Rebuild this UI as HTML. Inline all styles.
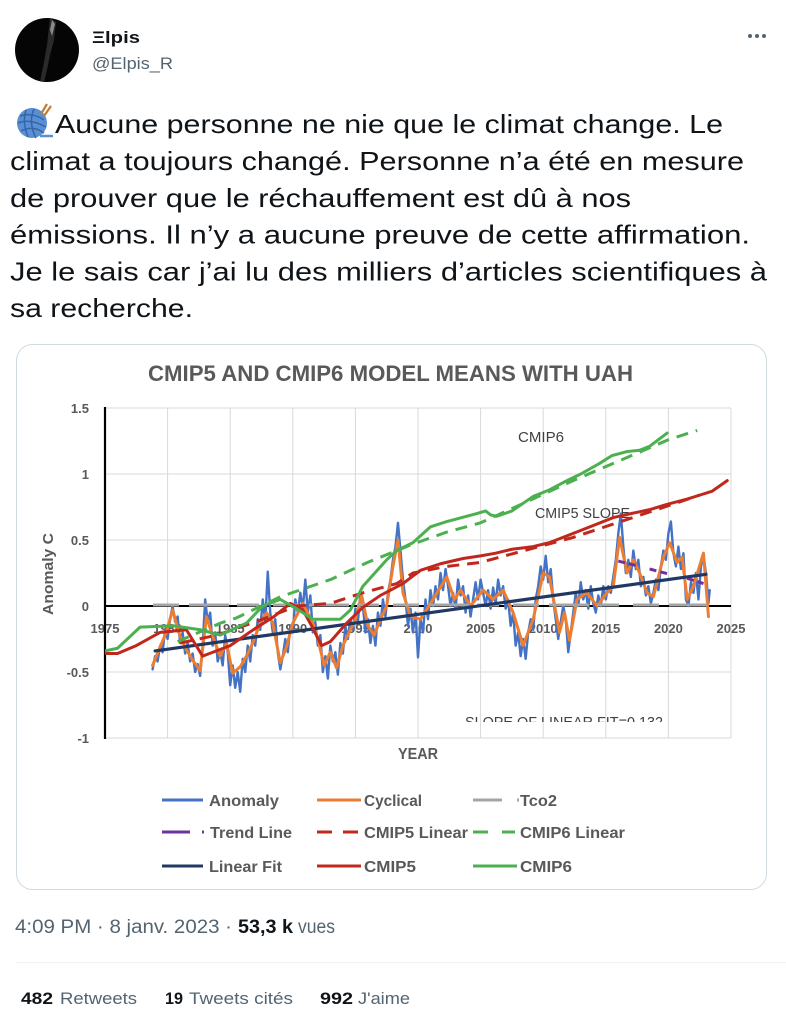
<!DOCTYPE html>
<html><head><meta charset="utf-8"><style>html,body{margin:0;padding:0;background:#fff;}svg{display:block}</style></head>
<body>
<svg width="786" height="1024" viewBox="0 0 786 1024" xmlns="http://www.w3.org/2000/svg" font-family="'Liberation Sans', sans-serif">
<defs>
<clipPath id="plot"><rect x="105" y="404" width="630" height="336"/></clipPath>
<clipPath id="slopeclip"><rect x="400" y="700" width="300" height="22"/></clipPath>
<clipPath id="av"><circle cx="47" cy="50" r="32"/></clipPath>
</defs>
<rect width="786" height="1024" fill="#fff"/>

<!-- header -->
<circle cx="47" cy="50" r="32" fill="#050505"/>
<g clip-path="url(#av)">
<path d="M50 18 L56 22 L54 40 L50 55 L47 70 L44 82 L40 82 L44 62 L47 45 Z" fill="#2a2a2a"/>
<path d="M52 20 L55 24 L52 36 L50 30 Z" fill="#8a8a8a"/>
</g>
<text x="92" y="43" font-size="17" font-weight="bold" fill="#0F1419" textLength="48" lengthAdjust="spacingAndGlyphs">Ξlpis</text>
<text x="92" y="69" font-size="17" fill="#536471" textLength="81" lengthAdjust="spacingAndGlyphs">@Elpis_R</text>
<circle cx="750" cy="36" r="2" fill="#536471"/><circle cx="757" cy="36" r="2" fill="#536471"/><circle cx="764" cy="36" r="2" fill="#536471"/>

<!-- yarn emoji -->
<circle cx="32" cy="123" r="15" fill="#5B8FD4"/>
<path d="M20 116 Q32 112 44 120 M18 123 Q30 118 46 127 M21 131 Q33 125 44 133 M26 110 Q22 122 28 137 M34 109 Q28 122 36 138" stroke="#3465A8" stroke-width="1.5" fill="none"/>
<line x1="41" y1="114" x2="47" y2="104" stroke="#C27A3A" stroke-width="2.2"/>
<line x1="44" y1="116" x2="51" y2="106" stroke="#C27A3A" stroke-width="2.2"/>
<path d="M40 136 L53 136" stroke="#5B8FD4" stroke-width="2.5"/>

<!-- tweet text -->
<g font-size="26" fill="#0F1419">
<text x="55" y="133" textLength="668" lengthAdjust="spacingAndGlyphs">Aucune personne ne nie que le climat change. Le</text>
<text x="10" y="170" textLength="734" lengthAdjust="spacingAndGlyphs">climat a toujours changé. Personne n’a été en mesure</text>
<text x="10" y="207" textLength="621" lengthAdjust="spacingAndGlyphs">de prouver que le réchauffement est dû à nos</text>
<text x="10" y="243.5" textLength="740" lengthAdjust="spacingAndGlyphs">émissions. Il n’y a aucune preuve de cette affirmation.</text>
<text x="10" y="280.5" textLength="757" lengthAdjust="spacingAndGlyphs">Je le sais car j’ai lu des milliers d’articles scientifiques à</text>
<text x="10" y="317" textLength="183" lengthAdjust="spacingAndGlyphs">sa recherche.</text>
</g>

<!-- card -->
<rect x="16.5" y="344.5" width="750" height="545" rx="16" ry="16" fill="#fff" stroke="#CFD9DE" stroke-width="1"/>

<!-- chart title -->
<text x="148" y="381" font-size="22" font-weight="bold" fill="#595959" textLength="485" lengthAdjust="spacingAndGlyphs">CMIP5 AND CMIP6 MODEL MEANS WITH UAH</text>

<!-- gridlines -->
<g stroke="#D9D9D9" stroke-width="1">
<line x1="105" y1="408" x2="731" y2="408"/><line x1="105" y1="474" x2="731" y2="474"/><line x1="105" y1="540" x2="731" y2="540"/><line x1="105" y1="672" x2="731" y2="672"/><line x1="105" y1="738" x2="731" y2="738"/>
<line x1="167.6" y1="408" x2="167.6" y2="738"/><line x1="230.2" y1="408" x2="230.2" y2="738"/><line x1="292.8" y1="408" x2="292.8" y2="738"/><line x1="355.4" y1="408" x2="355.4" y2="738"/><line x1="418" y1="408" x2="418" y2="738"/><line x1="480.6" y1="408" x2="480.6" y2="738"/><line x1="543.2" y1="408" x2="543.2" y2="738"/><line x1="605.8" y1="408" x2="605.8" y2="738"/><line x1="668.4" y1="408" x2="668.4" y2="738"/><line x1="731" y1="408" x2="731" y2="738"/>
</g>

<!-- y tick labels -->
<g font-size="13" font-weight="bold" fill="#595959" text-anchor="end">
<text x="89" y="413">1.5</text><text x="89" y="479">1</text><text x="89" y="545">0.5</text><text x="89" y="611">0</text><text x="89" y="677">-0.5</text><text x="89" y="743">-1</text>
</g>
<text transform="translate(53,574) rotate(-90)" font-size="15" font-weight="bold" fill="#595959" text-anchor="middle" textLength="82" lengthAdjust="spacingAndGlyphs">Anomaly C</text>

<!-- x tick labels -->
<g font-size="13" font-weight="bold" fill="#595959" text-anchor="middle">
<text x="105" y="633">1975</text><text x="167.6" y="633">1980</text><text x="230.2" y="633">1985</text><text x="292.8" y="633">1990</text><text x="355.4" y="633">1995</text><text x="418" y="633">2000</text><text x="480.6" y="633">2005</text><text x="543.2" y="633">2010</text><text x="605.8" y="633">2015</text><text x="668.4" y="633">2020</text><text x="731" y="633">2025</text>
</g>
<text x="398" y="759" font-size="16" font-weight="bold" fill="#595959" textLength="40" lengthAdjust="spacingAndGlyphs">YEAR</text>

<!-- axes -->
<line x1="105" y1="606" x2="731" y2="606" stroke="#000" stroke-width="2"/>
<line x1="105" y1="407" x2="105" y2="739" stroke="#000" stroke-width="2.2"/>

<!-- annotations -->
<text x="518" y="442" font-size="15" fill="#404040" textLength="46" lengthAdjust="spacingAndGlyphs">CMIP6</text>
<text x="535" y="518" font-size="15" fill="#404040" textLength="95" lengthAdjust="spacingAndGlyphs">CMIP5 SLOPE</text>
<g clip-path="url(#slopeclip)"><text x="465" y="727" font-size="15" fill="#404040" textLength="198" lengthAdjust="spacingAndGlyphs">SLOPE OF LINEAR FIT=0.132</text></g>

<g clip-path="url(#plot)" fill="none" stroke-linejoin="round" stroke-linecap="round">
<g transform="matrix(12.52 0 0 -132 105 606)">
<!-- Anomaly -->
<polyline vector-effect="non-scaling-stroke" stroke="#4472C4" stroke-width="2.4" points="3.8,-0.48 4.0,-0.38 4.2,-0.42 4.4,-0.3 4.6,-0.35 4.8,-0.18 5.0,-0.25 5.2,-0.1 5.4,0.0 5.6,-0.12 5.8,-0.08 6.0,-0.28 6.2,-0.2 6.4,-0.36 6.6,-0.28 6.8,-0.42 7.0,-0.36 7.2,-0.5 7.4,-0.44 7.6,-0.53 7.8,-0.3 8.0,0.05 8.2,-0.12 8.4,-0.05 8.6,-0.3 8.8,-0.2 9.0,-0.42 9.2,-0.35 9.4,-0.45 9.6,-0.22 9.8,-0.35 10.0,-0.6 10.2,-0.45 10.4,-0.62 10.6,-0.5 10.8,-0.65 11.0,-0.4 11.2,-0.5 11.4,-0.3 11.6,-0.42 11.8,-0.22 12.0,-0.3 12.2,-0.1 12.4,-0.18 12.6,0.05 12.8,-0.12 13.0,0.26 13.2,-0.05 13.4,-0.2 13.6,-0.1 13.8,-0.35 14.0,-0.48 14.2,-0.38 14.4,-0.25 14.6,-0.35 14.8,-0.15 15.0,-0.2 15.2,0.05 15.4,-0.05 15.6,0.1 15.8,-0.02 16.0,0.2 16.2,-0.05 16.4,0.08 16.6,-0.2 16.8,-0.12 17.0,-0.3 17.2,-0.22 17.4,-0.5 17.6,-0.38 17.8,-0.55 18.0,-0.3 18.2,-0.42 18.4,-0.35 18.6,-0.52 18.8,-0.28 19.0,-0.36 19.2,-0.15 19.4,-0.25 19.6,-0.1 19.8,-0.18 20.0,-0.02 20.2,-0.12 20.4,0.1 20.6,0.0 20.8,-0.2 21.0,-0.1 21.2,-0.28 21.4,-0.15 21.6,-0.3 21.8,-0.05 22.0,-0.15 22.2,0.05 22.4,-0.08 22.6,0.1 22.8,0.2 23.0,0.35 23.2,0.45 23.4,0.63 23.6,0.42 23.8,0.2 24.0,0.05 24.2,-0.15 24.4,-0.02 24.6,-0.2 24.8,-0.05 25.0,-0.39 25.2,-0.1 25.4,-0.2 25.6,0.05 25.8,-0.1 26.0,0.12 26.2,0.0 26.4,0.15 26.6,0.05 26.8,0.25 27.0,0.12 27.2,0.28 27.4,0.15 27.6,0.0 27.8,0.1 28.0,-0.02 28.2,0.2 28.4,0.08 28.6,0.15 28.8,-0.05 29.0,0.08 29.2,-0.08 29.4,0.05 29.6,0.18 29.8,0.05 30.0,0.2 30.2,0.1 30.4,0.0 30.6,0.12 30.8,-0.02 31.0,0.14 31.2,0.02 31.4,0.2 31.6,0.08 31.8,0.15 32.0,-0.02 32.2,0.05 32.4,-0.15 32.6,-0.05 32.8,-0.3 33.0,-0.2 33.2,-0.38 33.4,-0.25 33.6,-0.4 33.8,-0.2 34.0,-0.1 34.2,-0.18 34.4,0.05 34.6,0.15 34.8,0.3 35.0,0.2 35.2,0.38 35.4,0.18 35.6,0.28 35.8,0.05 36.0,-0.1 36.2,-0.25 36.4,-0.12 36.6,0.0 36.8,-0.1 37.0,-0.35 37.2,-0.2 37.4,-0.05 37.6,0.1 37.8,0.0 38.0,0.18 38.2,0.05 38.4,0.12 38.6,-0.02 38.8,0.15 39.0,0.02 39.2,-0.05 39.4,0.08 39.6,0.0 39.8,0.15 40.0,0.05 40.2,0.15 40.4,0.1 40.6,0.22 40.8,0.35 41.0,0.55 41.2,0.7 41.4,0.45 41.6,0.25 41.8,0.35 42.0,0.22 42.2,0.42 42.4,0.28 42.6,0.35 42.8,0.15 43.0,0.22 43.2,0.08 43.4,0.15 43.6,0.02 43.8,0.1 44.0,0.2 44.2,0.12 44.4,0.3 44.6,0.42 44.8,0.35 45.0,0.55 45.2,0.64 45.4,0.4 45.6,0.3 45.8,0.45 46.0,0.28 46.2,0.4 46.4,0.05 46.6,0.0 46.8,0.18 47.0,0.1 47.2,0.25 47.4,0.05 47.6,0.3 47.8,0.38 48.0,0.25 48.2,0.02 48.3,0.12"/>
<!-- Cyclical -->
<polyline vector-effect="non-scaling-stroke" stroke="#ED7D31" stroke-width="3" points="3.8,-0.45 4.4,-0.31 4.9,-0.2 5.4,-0.03 6,-0.23 6.5,-0.33 7,-0.41 7.6,-0.49 8.1,-0.08 8.6,-0.23 9.2,-0.38 9.7,-0.28 10.2,-0.51 10.8,-0.46 11.3,-0.38 11.8,-0.28 12.4,-0.13 12.9,-0.05 13.4,-0.13 14,-0.43 14.5,-0.31 15,-0.13 15.8,0.02 16.6,-0.13 17,-0.25 17.5,-0.45 18,-0.35 18.5,-0.47 19,-0.3 19.5,-0.2 20,-0.1 20.5,0.08 21,-0.15 21.5,-0.22 22,-0.1 22.5,0 23,0.3 23.4,0.5 23.8,0.1 24.4,-0.08 25.2,-0.1 26.2,0.05 27.3,0.22 27.9,0.05 28.4,0.12 29.2,0 30.2,0.12 31,0.05 31.8,0.12 32.6,-0.05 33.4,-0.3 34.2,-0.1 35,0.25 35.5,0.22 36.3,-0.2 36.7,-0.05 37.1,-0.26 37.7,0.05 38.5,0.1 39.3,0 40.1,0.1 40.6,0.15 41.1,0.52 41.7,0.25 42.2,0.35 42.7,0.25 43.3,0.1 43.8,0.07 44.6,0.37 45.1,0.48 45.7,0.33 46.1,0.37 46.5,0.05 47,0.15 47.8,0.4 48.2,-0.08"/>
</g>
<!-- Tco2 -->
<line x1="153" y1="605" x2="707" y2="605" stroke="#A5A5A5" stroke-width="3" stroke-dasharray="26 10 40 8 22 14" stroke-linecap="butt"/>
<!-- Trend line -->
<g stroke="#7030A0" stroke-width="3" stroke-dasharray="7 4" stroke-linecap="butt">
<line x1="618.3" y1="561.1" x2="639.6" y2="566.4"/>
<line x1="649.6" y1="569" x2="669.7" y2="574.3"/>
<line x1="687.2" y1="578.3" x2="703.5" y2="583.6"/>
</g>
<!-- CMIP5 linear -->
<polyline stroke="#C0281E" stroke-width="3" stroke-dasharray="12 8" stroke-linecap="butt" points="180.1,643 217.7,635 262.8,619.2 296.6,606 330.4,603.4 362.9,592.8 396.7,583.6 413,573 446.8,566.4 480.6,562.4 573.2,537.4 668.4,505.7 699.7,495.1"/>
<!-- CMIP6 linear -->
<polyline stroke="#4CB050" stroke-width="3" stroke-dasharray="12 8" stroke-linecap="butt" points="177.6,641.6 220.2,623.2 236.5,617.9 280.3,596.8 330.4,579.6 367.6,562.4 413,544 446.8,532.1 480.6,522.8 573.2,480.6 668.4,439.7 697.2,430.4"/>
<!-- Linear fit -->
<line x1="155.1" y1="650.9" x2="706" y2="574.3" stroke="#203864" stroke-width="3.2"/>
<g transform="matrix(12.52 0 0 -132 105 606)">
<!-- CMIP5 -->
<polyline vector-effect="non-scaling-stroke" stroke="#C0281E" stroke-width="3" points="0,-0.36 1,-0.36 2.5,-0.3 4.4,-0.2 6.5,-0.18 7.8,-0.38 10,-0.3 12,-0.17 13.5,-0.08 14.8,0.02 15.8,-0.03 16.5,-0.15 17.3,-0.3 18,-0.27 19.3,-0.13 20.6,-0.01 22,0.08 23.8,0.17 25.2,0.27 26.8,0.32 28.6,0.36 30,0.38 31.2,0.4 32.5,0.43 34.2,0.45 35.5,0.48 37.4,0.55 39,0.61 40.6,0.67 42,0.7 43.5,0.73 44.9,0.77 46.5,0.81 47.5,0.84 48.5,0.87 49.7,0.95"/>
<!-- CMIP6 -->
<polyline vector-effect="non-scaling-stroke" stroke="#4CB050" stroke-width="3" points="0,-0.34 1,-0.32 2.8,-0.16 5.5,-0.15 7.6,-0.18 9.2,-0.22 11.3,-0.13 12.6,0 14,0.05 15.3,-0.02 16.6,-0.1 18.8,-0.1 19.6,-0.03 20.6,0.15 22.5,0.35 23.3,0.42 24.6,0.48 26,0.6 27.3,0.64 29.7,0.7 30.4,0.72 30.8,0.69 31.3,0.68 32.5,0.72 34.2,0.83 35.5,0.88 36.9,0.95 38,1.0 39.5,1.08 40.5,1.14 41.7,1.17 42.7,1.18 43.5,1.21 44.9,1.31"/>
</g>
</g>

<!-- legend -->
<g stroke-width="3" fill="none">
<line x1="162" y1="800" x2="203" y2="800" stroke="#4472C4"/>
<line x1="317" y1="800" x2="361" y2="800" stroke="#ED7D31"/>
<line x1="473" y1="800" x2="502" y2="800" stroke="#A5A5A5"/>
<line x1="517" y1="800" x2="519" y2="800" stroke="#A5A5A5"/>
<line x1="162" y1="832" x2="190" y2="832" stroke="#7030A0"/>
<line x1="202" y1="832" x2="204" y2="832" stroke="#7030A0"/>
<line x1="317" y1="832" x2="332" y2="832" stroke="#C0281E"/>
<line x1="343" y1="832" x2="358" y2="832" stroke="#C0281E"/>
<line x1="473" y1="832" x2="488" y2="832" stroke="#4CB050"/>
<line x1="502" y1="832" x2="515" y2="832" stroke="#4CB050"/>
<line x1="162" y1="866" x2="203" y2="866" stroke="#203864"/>
<line x1="317" y1="866" x2="361" y2="866" stroke="#C0281E"/>
<line x1="473" y1="866" x2="517" y2="866" stroke="#4CB050"/>
</g>
<g font-size="16" font-weight="bold" fill="#595959">
<text x="209" y="806" textLength="70" lengthAdjust="spacingAndGlyphs">Anomaly</text>
<text x="364" y="806" textLength="58" lengthAdjust="spacingAndGlyphs">Cyclical</text>
<text x="520" y="806" textLength="37" lengthAdjust="spacingAndGlyphs">Tco2</text>
<text x="210" y="838" textLength="82" lengthAdjust="spacingAndGlyphs">Trend Line</text>
<text x="364" y="838" textLength="104" lengthAdjust="spacingAndGlyphs">CMIP5 Linear</text>
<text x="520" y="838" textLength="105" lengthAdjust="spacingAndGlyphs">CMIP6 Linear</text>
<text x="209" y="872" textLength="73" lengthAdjust="spacingAndGlyphs">Linear Fit</text>
<text x="364" y="872" textLength="52" lengthAdjust="spacingAndGlyphs">CMIP5</text>
<text x="520" y="872" textLength="52" lengthAdjust="spacingAndGlyphs">CMIP6</text>
</g>

<!-- footer -->
<text x="15" y="933" font-size="19" fill="#536471" textLength="217" lengthAdjust="spacingAndGlyphs">4:09 PM · 8 janv. 2023 ·</text>
<text x="238" y="933" font-size="19" font-weight="bold" fill="#0F1419" textLength="55" lengthAdjust="spacingAndGlyphs">53,3 k</text>
<text x="298" y="933" font-size="19" fill="#536471" textLength="37" lengthAdjust="spacingAndGlyphs">vues</text>
<line x1="15" y1="962.5" x2="786" y2="962.5" stroke="#EFF3F4" stroke-width="1"/>
<g font-size="17">
<text x="21" y="1004" font-weight="bold" fill="#0F1419" textLength="32" lengthAdjust="spacingAndGlyphs">482</text>
<text x="60" y="1004" fill="#536471" textLength="77" lengthAdjust="spacingAndGlyphs">Retweets</text>
<text x="165" y="1004" font-weight="bold" fill="#0F1419" textLength="18" lengthAdjust="spacingAndGlyphs">19</text>
<text x="189" y="1004" fill="#536471" textLength="104" lengthAdjust="spacingAndGlyphs">Tweets cités</text>
<text x="320" y="1004" font-weight="bold" fill="#0F1419" textLength="33" lengthAdjust="spacingAndGlyphs">992</text>
<text x="358" y="1004" fill="#536471" textLength="52" lengthAdjust="spacingAndGlyphs">J'aime</text>
</g>
</svg>
</body></html>
